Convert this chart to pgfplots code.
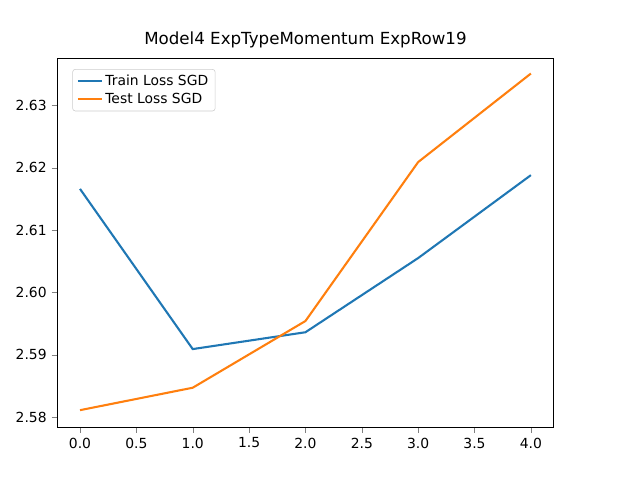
\documentclass[border=0pt]{standalone}
\usepackage{pgfplots}
\pgfplotsset{compat=1.18}
\usepackage{fontspec}
\setmainfont{DejaVu Sans}
\begin{document}
\begin{tikzpicture}
\begin{axis}[at={(57.6pt,38.16pt)}, anchor=origin, scale only axis,
 width=357.1pt, height=265.7pt,
 xmin=-0.2, xmax=4.2, ymin=2.5784, ymax=2.6376,
 xtick={0,0.5,...,4}, ytick={2.58,2.59,...,2.63},
 xticklabel style={/pgf/number format/.cd,fixed,fixed zerofill,precision=1},
 yticklabel style={/pgf/number format/.cd,fixed,fixed zerofill,precision=2},
 /pgf/number format/assume math mode=true,
 tick label style={font=\fontsize{10}{12}\selectfont},
 tick align=outside, tick pos=left,
 title={Model4 ExpTypeMomentum ExpRow19},
 title style={font=\fontsize{12}{14}\selectfont, yshift=-2pt},
 legend pos=north west, legend cell align=left,
 legend style={font=\fontsize{10}{12}\selectfont, draw=black!20, rounded corners=2pt},
 ]
\addplot[color={rgb,255:red,31;green,119;blue,180}, line width=1.5pt] coordinates {(0,2.6166)(1,2.5909)(2,2.5936)(3,2.6055)(4,2.6188)};
\addlegendentry{Train Loss SGD}
\addplot[color={rgb,255:red,255;green,127;blue,14}, line width=1.5pt] coordinates {(0,2.5811)(1,2.5847)(2,2.5954)(3,2.6209)(4,2.6351)};
\addlegendentry{Test Loss SGD}
\end{axis}
\pgfresetboundingbox
\path[use as bounding box] (0,0) rectangle (460.8pt,345.6pt);
\end{tikzpicture}
\end{document}
